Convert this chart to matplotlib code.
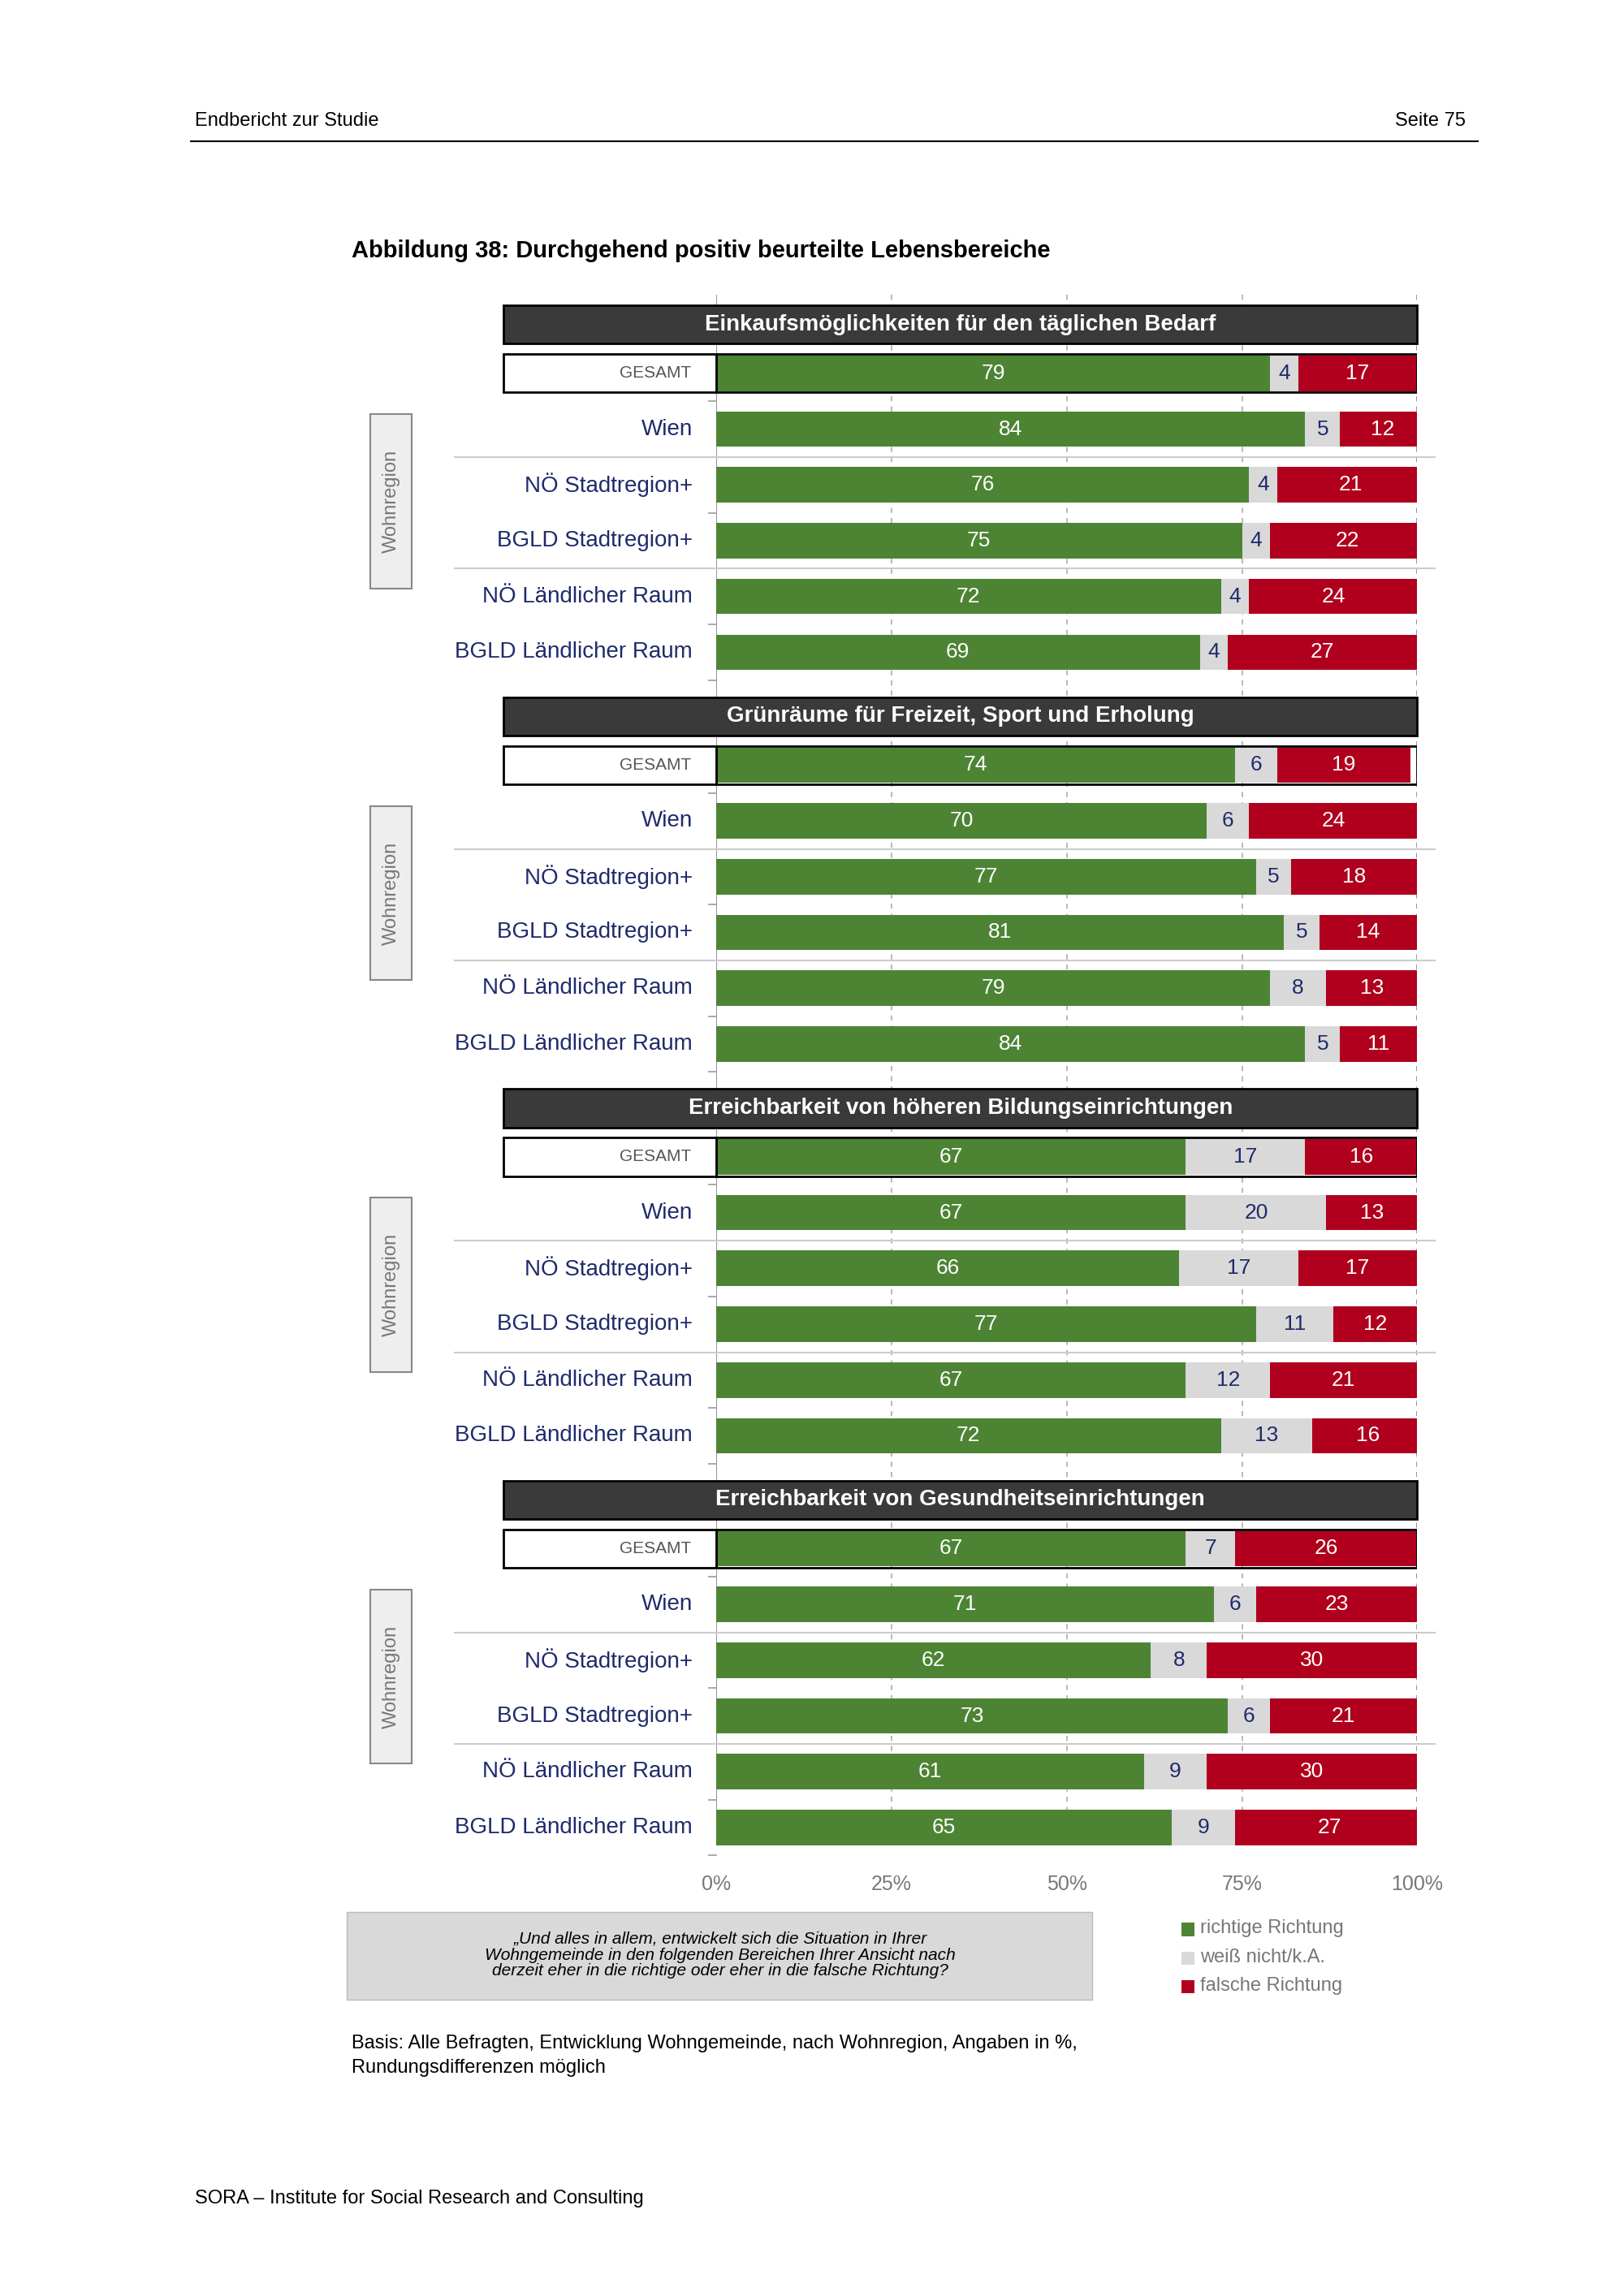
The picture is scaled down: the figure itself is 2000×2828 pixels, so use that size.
import matplotlib.pyplot as plt
from matplotlib.patches import Rectangle

plt.rcParams['font.family'] = ['Liberation Sans', 'DejaVu Sans']

titles = ["Einkaufsmöglichkeiten für den täglichen Bedarf",
          "Grünräume für Freizeit, Sport und Erholung",
          "Erreichbarkeit von höheren Bildungseinrichtungen",
          "Erreichbarkeit von Gesundheitseinrichtungen"]
rows = ["GESAMT", "Wien", "NÖ Stadtregion+", "BGLD Stadtregion+",
        "NÖ Ländlicher Raum", "BGLD Ländlicher Raum"]
richtig = [[79, 84, 76, 75, 72, 69],
           [74, 70, 77, 81, 79, 84],
           [67, 67, 66, 77, 67, 72],
           [67, 71, 62, 73, 61, 65]]
weiss = [[4, 5, 4, 4, 4, 4],
         [6, 6, 5, 5, 8, 5],
         [17, 20, 17, 11, 12, 13],
         [7, 6, 8, 6, 9, 9]]
falsch = [[17, 12, 21, 22, 24, 27],
          [19, 24, 18, 14, 13, 11],
          [16, 13, 17, 12, 21, 16],
          [26, 23, 30, 21, 30, 27]]

GREEN, GREY, RED = "#4d8434", "#d9d9d9", "#b0001e"
NAVY = "#1f2b6b"

W, H = 1100, 1556
fig = plt.figure(figsize=(20, 28.28), dpi=100)
def fx(x): return x / W
def fy(y): return 1 - y / H

# axes: x 0..100 mapped to px 485..960, y in page px 200..1255
ax = fig.add_axes([fx(485), fy(1255), fx(960) - fx(485), (1255 - 200) / H])
ax.set_xlim(0, 100)
ax.set_ylim(1255, 200)
ax.axis('off')
def px2x(p): return (p - 485) / 475 * 100

for k in (25, 50, 75):
    ax.plot([k, k], [200, 1250], color="#bbbbbb", ls=(0, (3, 3)), lw=1.5, zorder=0)
ax.plot([0, 0], [200, 1250], color="#999999", lw=1.5, zorder=0)
ax.plot([100, 100], [200, 1250], color="#999999", lw=1.5, ls=(0, (3, 3)), zorder=0)

bh = 24
for g in range(4):
    top = 220 + g * 265.5
    ax.add_patch(Rectangle((px2x(341), top - 13), 100 - px2x(341), 26,
                           facecolor="#3a3a3a", edgecolor="black", lw=2, clip_on=False))
    ax.text((px2x(341) + 100) / 2, top, titles[g], color="white", fontsize=20,
            fontweight="bold", ha="center", va="center")
    ys = [top + 33 + i * 37.8 for i in range(6)]
    for i, y in enumerate(ys):
        r, w, f = richtig[g][i], weiss[g][i], falsch[g][i]
        ax.barh(y, r, height=bh, color=GREEN, zorder=2)
        ax.barh(y, w, left=r, height=bh, color=GREY, zorder=2)
        ax.barh(y, f, left=r + w, height=bh, color=RED, zorder=2)
        ax.text(r / 2, y, str(r), color="white", fontsize=19, ha="center", va="center", zorder=3)
        ax.text(r + w / 2, y, str(w), color=NAVY, fontsize=19, ha="center", va="center", zorder=3)
        ax.text(r + w + f / 2, y, str(f), color="white", fontsize=19, ha="center", va="center", zorder=3)
        if i == 0:
            ax.add_patch(Rectangle((px2x(341), y - 13), 0 - px2x(341), 26,
                                   facecolor="white", edgecolor="black", lw=2, clip_on=False))
            ax.add_patch(Rectangle((0, y - 13), 100, 26, facecolor="none",
                                   edgecolor="black", lw=2, zorder=4))
            ax.text(px2x(468), y, rows[i], color="#555555", fontsize=15,
                    ha="right", va="center")
        else:
            ax.text(px2x(469), y, rows[i], color=NAVY, fontsize=20,
                    ha="right", va="center")
        ax.plot([px2x(480), 0], [y + 19, y + 19], color="#999999", lw=1.2, clip_on=False)
    for sy in (ys[1] + 19, ys[3] + 19):
        ax.plot([px2x(308), px2x(972)], [sy, sy], color="#cccccc", lw=1.5, clip_on=False)
    ax.add_patch(Rectangle((px2x(251), ys[1] - 10), px2x(279) - px2x(251), 118,
                           facecolor="#eeeeee", edgecolor="#888888", lw=1.5, clip_on=False))
    ax.text(px2x(265), ys[1] + 49, "Wohnregion", rotation=90, color="#777777",
            fontsize=17, ha="center", va="center")

for k in (0, 25, 50, 75, 100):
    ax.text(k, 1277, f"{k}%", color="#777777", fontsize=18, ha="center", va="center")

# page furniture
fig.text(fx(132), fy(82), "Endbericht zur Studie", fontsize=17, va="center")
fig.text(fx(993), fy(82), "Seite 75", fontsize=17, va="center", ha="right")
fig.add_artist(plt.Line2D([fx(129), fx(1001)], [fy(96), fy(96)], color="black", lw=1.5))
fig.text(fx(238), fy(170), "Abbildung 38: Durchgehend positiv beurteilte Lebensbereiche",
         fontsize=21, fontweight="bold", va="center")
fig.add_artist(Rectangle((fx(235), fy(1355)), fx(740) - fx(235), (1355 - 1296) / H,
                         facecolor="#d9d9d9", edgecolor="#bbbbbb", transform=fig.transFigure))
fig.text(fx(488), fy(1325), "„Und alles in allem, entwickelt sich die Situation in Ihrer\n"
         "Wohngemeinde in den folgenden Bereichen Ihrer Ansicht nach\n"
         "derzeit eher in die richtige oder eher in die falsche Richtung?",
         fontsize=15, style="italic", ha="center", va="center", linespacing=1.05)
for j, (lab, c) in enumerate([("richtige Richtung", GREEN), ("weiß nicht/k.A.", GREY),
                              ("falsche Richtung", RED)]):
    yy = 1307 + j * 19.5
    fig.add_artist(Rectangle((fx(800), fy(yy + 5)), fx(9), 9 / H, facecolor=c,
                             transform=fig.transFigure))
    fig.text(fx(813), fy(yy), lab, fontsize=17, color="#777777", va="center")
fig.text(fx(238), fy(1393), "Basis: Alle Befragten, Entwicklung Wohngemeinde, nach Wohnregion, Angaben in %,\n"
         "Rundungsdifferenzen möglich", fontsize=17, va="center", linespacing=1.5)
fig.text(fx(132), fy(1490), "SORA – Institute for Social Research and Consulting", fontsize=17, va="center")

fig.savefig("out.png", dpi=100, facecolor="white")
